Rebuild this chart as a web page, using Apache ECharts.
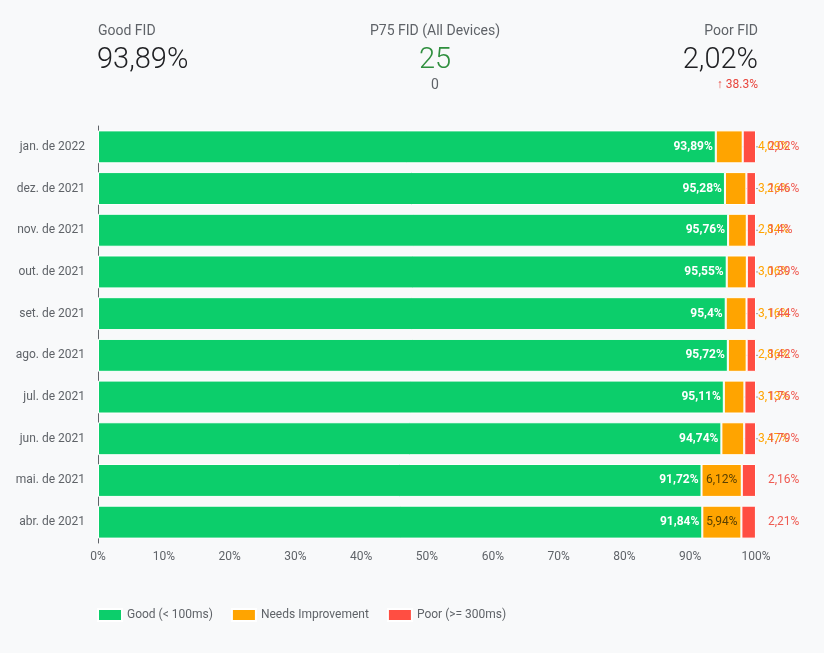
<!DOCTYPE html>
<html><head><meta charset="utf-8">
<script src="https://cdn.jsdelivr.net/npm/echarts@6/dist/echarts.min.js"></script>
<style>html,body{margin:0;padding:0;background:#f8f9fa;}#c{width:824px;height:653px;}</style>
</head><body><div id="c"></div>
<script>
const categories = ['jan. de 2022','dez. de 2021','nov. de 2021','out. de 2021','set. de 2021','ago. de 2021','jul. de 2021','jun. de 2021','mai. de 2021','abr. de 2021'];
const good  = [93.89, 95.28, 95.76, 95.55, 95.4, 95.72, 95.11, 94.74, 91.72, 91.84];
const needs = [4.09, 3.26, 2.84, 3.06, 3.16, 2.86, 3.13, 3.47, 6.12, 5.94];
const poor  = [2.02, 1.46, 1.4, 1.39, 1.44, 1.42, 1.76, 1.79, 2.16, 2.21];
const seriesNames = ['Good (< 100ms)', 'Needs Improvement', 'Poor (>= 300ms)'];
const kpiTitles = ['Good FID', 'P75 FID (All Devices)', 'Poor FID'];
const p75Value = '25';
const p75Sub = '0';
const poorChange = '38.3%';

const C_GOOD = '#0cce6b', C_NEEDS = '#ffa400', C_POOR = '#ff4e42';
const fmt = v => String(v).replace('.', ',') + '%';
const FONT = 'Roboto, "Noto Sans", sans-serif';

const chart = echarts.init(document.getElementById('c'));
const needsData = needs.map((v, i) => {
  const inside = v > 5;
  return {
    value: v,
    label: inside
      ? { position: 'inside', color: '#5a4000', fontSize: 12 }
      : { position: 'right', color: C_NEEDS, fontSize: 12 }
  };
});

chart.setOption({
  backgroundColor: '#f8f9fa',
  textStyle: { fontFamily: FONT },
  animation: false,
  graphic: [
    { type: 'text', left: 98, top: 24, style: { text: kpiTitles[0], fill: '#5f6368', font: '14px ' + FONT } },
    { type: 'text', left: 97, top: 46, style: { text: fmt(good[0]), fill: '#202124', font: '300 29px ' + FONT } },
    { type: 'text', x: 435, y: 24, style: { text: kpiTitles[1], fill: '#5f6368', font: '14px ' + FONT, textAlign: 'center' } },
    { type: 'text', x: 435, y: 46, style: { text: p75Value, fill: '#2f8f3e', font: '300 29px ' + FONT, textAlign: 'center' } },
    { type: 'text', x: 435, y: 78, style: { text: p75Sub, fill: '#5f6368', font: '14px ' + FONT, textAlign: 'center' } },
    { type: 'text', x: 758, y: 24, style: { text: kpiTitles[2], fill: '#5f6368', font: '14px ' + FONT, textAlign: 'right' } },
    { type: 'text', x: 758, y: 46, style: { text: fmt(poor[0]), fill: '#202124', font: '300 29px ' + FONT, textAlign: 'right' } },
    { type: 'text', x: 758, y: 79, style: { text: '\u2191 ' + poorChange, fill: '#e8453c', font: '12px ' + FONT, textAlign: 'right' } }
  ],
  legend: {
    left: 92, top: 603,
    itemWidth: 24, itemHeight: 12, itemGap: 18,
    icon: 'rect',
    textStyle: { color: '#5f6368', fontSize: 12, fontFamily: FONT },
    data: seriesNames
  },
  grid: { left: 98, right: 68, top: 126, bottom: 110, containLabel: false },
  xAxis: {
    type: 'value', min: 0, max: 100, interval: 10,
    axisLabel: { formatter: '{value}%', color: '#5f6368', fontSize: 12, margin: 8 },
    splitLine: { show: false },
    axisLine: { show: false },
    axisTick: { show: false }
  },
  yAxis: {
    type: 'category', data: categories, inverse: true,
    axisLine: { show: true, lineStyle: { color: '#5f6368', width: 1 } },
    axisTick: { show: false },
    axisLabel: { color: '#5f6368', fontSize: 12, margin: 13 }
  },
  series: [
    {
      name: seriesNames[0], type: 'bar', stack: 't', barCategoryGap: '21%',
      data: good,
      itemStyle: { color: C_GOOD, borderColor: '#ffffff', borderWidth: 1 },
      label: { show: true, position: 'insideRight', distance: 3, color: '#ffffff', fontWeight: 'bold', fontSize: 12, formatter: p => fmt(p.value) }
    },
    {
      name: seriesNames[1], type: 'bar', stack: 't',
      data: needsData,
      itemStyle: { color: C_NEEDS, borderColor: '#ffffff', borderWidth: 1 },
      label: { show: true, fontSize: 12, formatter: p => fmt(p.value) },
      labelLine: { show: true, lineStyle: { color: '#9aa0a6', width: 1 } },
      labelLayout: function (params) {
        const i = params.dataIndex;
        if (needs[i] > 5) return {};
        const r = params.rect;
        const end = r.x + r.width * (1 + poor[i] / needs[i]);
        return { x: end + 2, y: r.y + r.height / 2, align: 'left', verticalAlign: 'middle' };
      }
    },
    {
      name: seriesNames[2], type: 'bar', stack: 't',
      data: poor,
      itemStyle: { color: C_POOR, borderColor: '#ffffff', borderWidth: 1 },
      label: { show: true, position: 'right', distance: 12, color: '#ef5b52', fontSize: 12, formatter: p => fmt(p.value) }
    }
  ]
});
</script>
</body></html>
